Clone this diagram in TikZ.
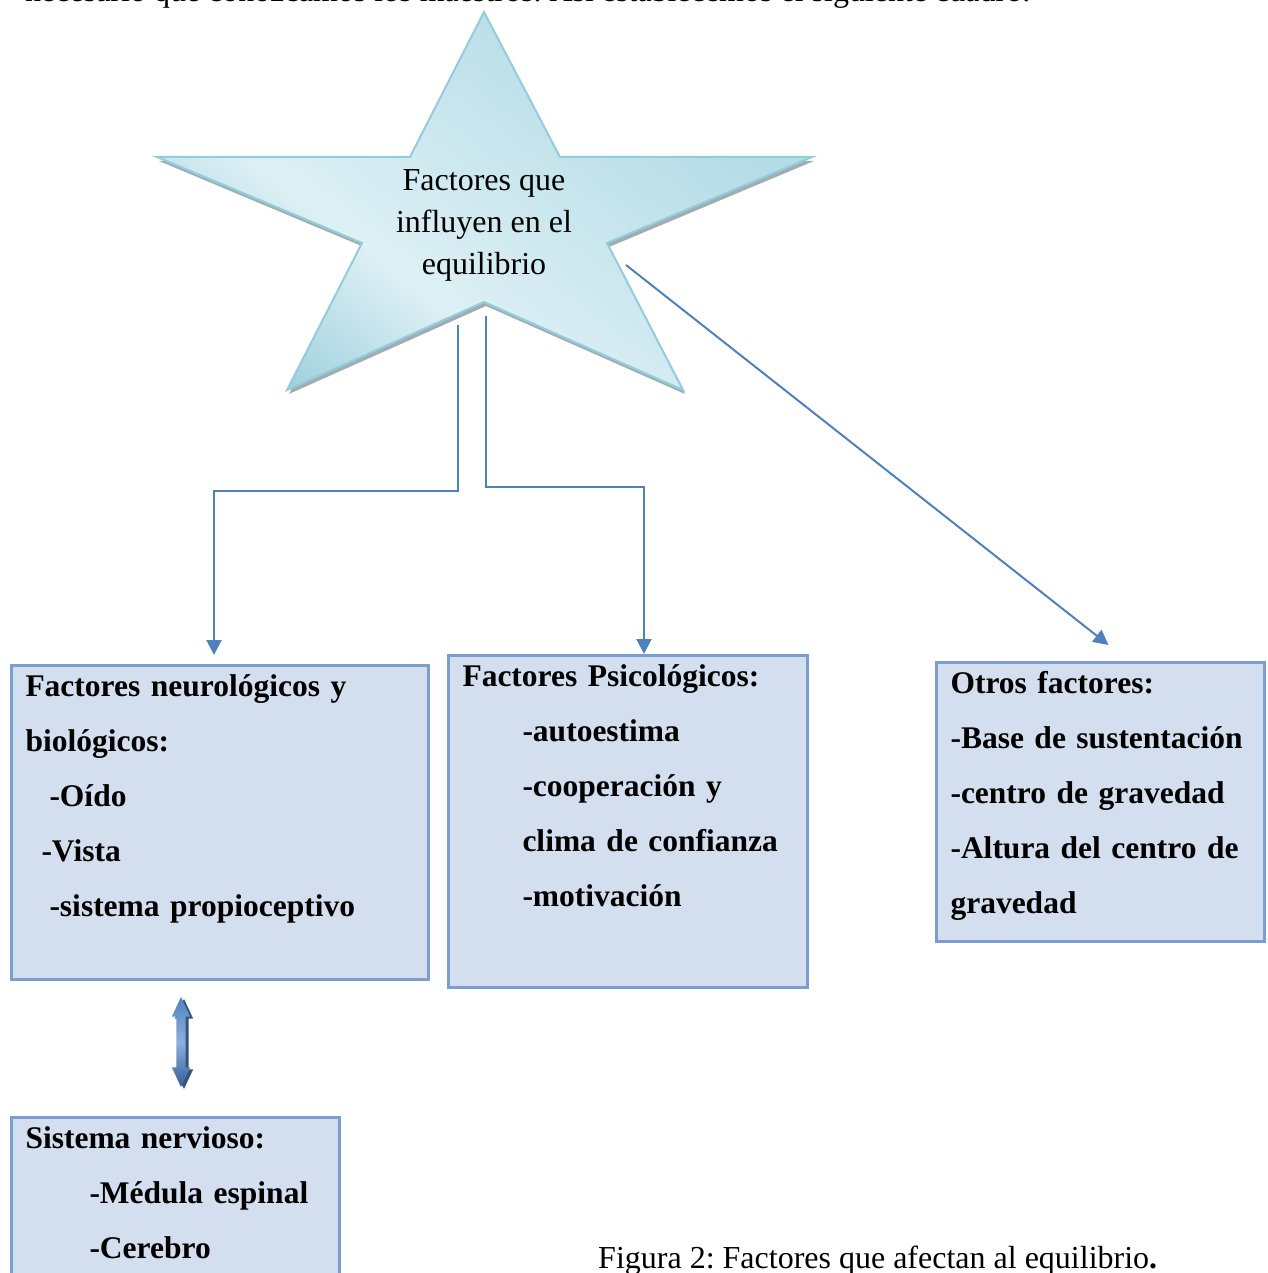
\documentclass[tikz,border=0pt]{standalone}
\usepackage{fontspec}
\setmainfont{Liberation Serif}
\usetikzlibrary{arrows.meta,positioning,calc,shapes.arrows,shadows}
\definecolor{linkblue}{RGB}{79,129,189}
\definecolor{boxfill}{RGB}{211,223,238}
\definecolor{boxline}{RGB}{124,158,207}
\definecolor{starlight}{RGB}{222,240,245}
\definecolor{startop}{RGB}{180,220,230}
\definecolor{starbottom}{RGB}{150,204,218}
\definecolor{starline}{RGB}{146,205,220}
\definecolor{arrowmid}{RGB}{140,176,222}
\definecolor{arrowdark}{RGB}{52,92,150}
\pgfdeclareverticalshading{starshade}{100bp}{color(0bp)=(starbottom); color(21bp)=(starbottom);
  color(39bp)=(starlight); color(70bp)=(startop); color(100bp)=(startop)}
\frenchspacing

\begin{document}
\begin{tikzpicture}[
  x=1pt,y=-1pt,
  every node/.style={font=\fontsize{32}{42}\selectfont},
  link/.style={draw=linkblue,line width=2pt,-{Triangle[length=15pt,width=15pt]}},
  factbox/.style={rectangle,draw=boxline,line width=3pt,fill=boxfill,anchor=north west,align=left,
    inner xsep=14pt,inner ysep=8pt,text height=23pt,font=\bfseries\fontsize{31.5}{55}\selectfont}
]
\useasboundingbox (0,0) rectangle (1267,1273);
\clip (0,0) rectangle (1267,1273);
\node[anchor=base west,inner sep=0pt] (intro) at (25,2) {necesario que conozcamos los maestros. Así establecemos el siguiente cuadro.};
\path[drop shadow={shadow xshift=2pt,shadow yshift=-4pt,fill=gray!85!cyan,opacity=0.8},
  draw=starline,line width=2pt,shading=starshade,shading angle=-37.6]
  (484,12) -- (560,157) -- (812,157) -- (607,243) -- (683,390) -- (484,302)
  -- (287,390) -- (362,243) -- (157,157) -- (410,157) -- cycle;
\node[align=center] (star) at (484,225) {Factores que\\influyen en el\\equilibrio};
\coordinate (s1) at (458,325);
\coordinate (s2) at (486,316);
\coordinate (s3) at (626,265);
\node[factbox,text width=389pt,text depth=275pt] (neuro) at (10,664)
  {Factores neurológicos y\\biológicos:\\\hspace*{24pt}-Oído\\\hspace*{16pt}-Vista\\\hspace*{24pt}-sistema propioceptivo};
\node[factbox,text width=331pt,text depth=293pt] (psico) at (447,654)
  {Factores Psicológicos:\\\hspace*{60pt}-autoestima\\\hspace*{60pt}-cooperación y\\\hspace*{60pt}clima de confianza\\\hspace*{60pt}-motivación};
\node[factbox,text width=300pt,text depth=240pt] (otros) at (935,661)
  {Otros factores:\\-Base de sustentación\\-centro de gravedad\\-Altura del centro de\\gravedad};
\node[factbox,text width=300pt,text depth=200pt,below=135pt of neuro.south west,anchor=north west] (nervioso)
  {Sistema nervioso:\\\hspace*{64pt}-Médula espinal\\\hspace*{64pt}-Cerebro};
\node[double arrow,rotate=90,minimum height=90pt,inner sep=4.5pt,
  double arrow head extend=4.5pt,double arrow tip angle=50,
  top color=linkblue,bottom color=arrowdark,middle color=arrowmid,
  drop shadow={shadow xshift=3pt,shadow yshift=-2pt,fill=arrowdark!70!black,opacity=0.9}] (flecha) at (181,1042) {};
\node[anchor=base west,inner sep=0pt] (caption) at (598,1268) {Figura 2: Factores que afectan al equilibrio\textbf{.}};
\draw[link] (s1) -- ++(0,166) -| ([xshift=-6pt,yshift=9pt]neuro.north);
\draw[link] (s2) -- ++(0,171) -| ([xshift=16pt]psico.north);
\draw[link] (s3) -- ([xshift=8pt,yshift=16pt]otros.north);
\end{tikzpicture}
\end{document}
